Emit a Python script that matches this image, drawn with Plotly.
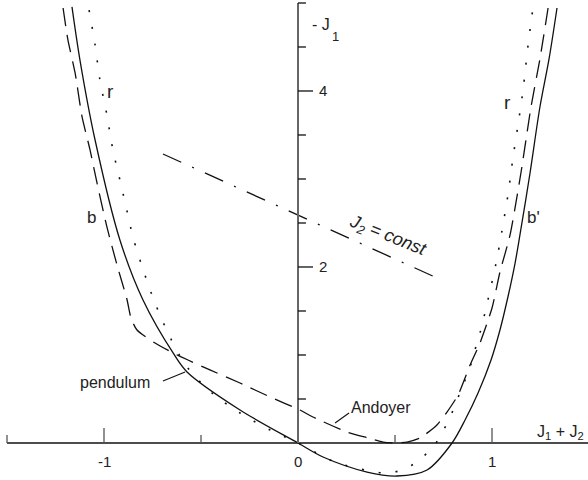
import plotly.graph_objects as go

# ---- curves in the (J1 + J2, -J1) plane ----
# pendulum approximation (solid, labelled b / b')
pendulum_x = [-1.165, -1.124, -1.046, -0.918, -0.799, -0.644, -0.572, -0.299, 0.0,
              0.129, 0.356, 0.510, 0.665, 0.794, 0.861, 0.928, 0.995, 1.041,
              1.082, 1.119, 1.144, 1.196, 1.247, 1.294, 1.335]
pendulum_y = [4.955, 4.352, 3.443, 2.307, 1.625, 1.023, 0.807, 0.375, 0.0,
              -0.159, -0.330, -0.375, -0.307, 0.0, 0.261, 0.568, 0.943, 1.284,
              1.659, 2.045, 2.364, 3.068, 3.818, 4.364, 4.943]

# Andoyer model (dashed)
andoyer_x = [-1.211, -1.186, -1.149, -1.113, -1.072, -1.036, -0.985, -0.933, -0.881,
             -0.861, -0.830, -0.737, -0.644, -0.567, -0.454, -0.299, -0.144, 0.010,
             0.077, 0.253, 0.361, 0.438, 0.500, 0.562, 0.629, 0.716, 0.768, 0.825,
             0.887, 0.938, 1.000, 1.041, 1.093, 1.149, 1.201, 1.247, 1.289]
andoyer_y = [4.943, 4.580, 4.205, 3.705, 3.330, 2.955, 2.455, 2.023, 1.625,
             1.420, 1.284, 1.136, 1.023, 0.943, 0.830, 0.682, 0.523, 0.375,
             0.295, 0.125, 0.057, 0.011, 0.000, 0.011, 0.057, 0.205, 0.352, 0.545,
             0.886, 1.136, 1.534, 1.943, 2.364, 3.068, 3.818, 4.364, 4.943]

# reduced model r (dotted)
r_x = [-1.077, -1.046, -1.021, -0.985, -0.954, -0.912, -0.871, -0.851, -0.789, -0.737,
       -0.660, -0.572, -0.443, -0.299, -0.144, 0.0, 0.191, 0.371, 0.459, 0.552,
       0.624, 0.696, 0.742, 0.784, 0.820, 0.851, 0.887, 0.912, 0.938, 0.979,
       1.021, 1.052, 1.082, 1.108, 1.134, 1.160, 1.186, 1.211]
r_y = [4.920, 4.523, 4.125, 3.727, 3.330, 2.932, 2.534, 2.341, 1.909, 1.591,
       1.205, 0.864, 0.568, 0.341, 0.148, 0.0, -0.216, -0.318, -0.341, -0.295,
       -0.193, -0.045, 0.114, 0.295, 0.489, 0.659, 0.864, 1.057, 1.250, 1.625,
       2.045, 2.420, 2.818, 3.239, 3.614, 4.011, 4.523, 4.943]

# line of constant J2 (dash-dot)
const_x = [-0.696, 0.706]
const_y = [3.284, 1.886]

# ---- axes ----
x_major_ticks = [-1, 1]
x_minor_ticks = [-1.5, -0.5, 0.5]
x_tick_labels = ["-1", "0", "1"]
x_tick_label_pos = [-1, 0, 1]
y_major_ticks = [2, 4]
y_minor_ticks = [0.5, 1, 1.5, 2.5, 3, 3.5, 4.5, 5]
y_tick_labels = ["2", "4"]

X_RANGE = [-1.5361, 1.4948]
Y_RANGE = [-0.4205, 5.034]
# tick lengths in data units (x-axis ticks are vertical, y-axis ticks horizontal)
XT_MAJ, XT_MIN = 0.170, 0.091
YT_MAJ, YT_MIN = 0.0773, 0.041

FONT = "Liberation Sans"
INK = "#111111"

fig = go.Figure()

fig.add_trace(go.Scatter(x=pendulum_x, y=pendulum_y, mode="lines",
                         line=dict(color=INK, width=1.3, shape="spline", smoothing=0.9)))
fig.add_trace(go.Scatter(x=andoyer_x, y=andoyer_y, mode="lines",
                         line=dict(color=INK, width=1.3, dash="18px,9px",
                                   shape="spline", smoothing=0.6)))
fig.add_trace(go.Scatter(x=r_x, y=r_y, mode="lines",
                         line=dict(color=INK, width=1.6, dash="2px,15px",
                                   shape="spline", smoothing=0.9)))
fig.add_trace(go.Scatter(x=const_x, y=const_y, mode="lines",
                         line=dict(color=INK, width=1.3, dash="20px,12px,2px,12px")))

shapes = []
# horizontal axis (J1 + J2) and vertical axis (-J1)
shapes.append(dict(type="line", x0=-1.5, x1=1.6, y0=0, y1=0,
                   line=dict(color=INK, width=1.3)))
shapes.append(dict(type="line", x0=0, x1=0, y0=0, y1=5,
                   line=dict(color="#666666", width=2)))
for t in x_major_ticks:
    shapes.append(dict(type="line", x0=t, x1=t, y0=0, y1=XT_MAJ,
                       line=dict(color="#555555", width=1.3)))
for t in x_minor_ticks:
    shapes.append(dict(type="line", x0=t, x1=t, y0=0, y1=XT_MIN,
                       line=dict(color="#555555", width=1.3)))
for t in y_major_ticks:
    shapes.append(dict(type="line", x0=0, x1=YT_MAJ, y0=t, y1=t,
                       line=dict(color=INK, width=1.3)))
for t in y_minor_ticks:
    shapes.append(dict(type="line", x0=0, x1=YT_MIN, y0=t, y1=t,
                       line=dict(color=INK, width=1.3)))
# leader lines for the model names
shapes.append(dict(type="line", x0=-0.696, y0=0.705, x1=-0.582, y1=0.807,
                   line=dict(color=INK, width=1.1)))
shapes.append(dict(type="line", x0=0.191, y0=0.227, x1=0.263, y1=0.341,
                   line=dict(color=INK, width=1.1)))

ann = []


def label(x, y, text, size=16, xanchor="center", angle=0):
    ann.append(dict(x=x, y=y, text=text, showarrow=False, xanchor=xanchor,
                    yanchor="middle", textangle=angle,
                    font=dict(family=FONT, size=size, color="#222222")))


for t, s in zip(x_tick_label_pos, x_tick_labels):
    label(t, -0.205, s, size=15)
for t, s in zip(y_major_ticks, y_tick_labels):
    label(0.129, t, s, size=15)

label(0.060, 4.75, "- J", size=16, xanchor="left")
label(0.164, 4.62, "1", size=13, xanchor="left")
label(1.224, 0.118, "J<sub>1</sub> + J<sub>2</sub>", size=16, xanchor="left")

label(-0.969, 3.989, "r", size=19)
label(-1.062, 2.557, "b", size=17)
label(1.082, 3.864, "r", size=19)
label(1.216, 2.557, "b'", size=17)
label(-0.943, 0.693, "pendulum", size=16)
label(0.428, 0.398, "Andoyer", size=16)
label(0.464, 2.352, "<i>J<sub>2</sub> = const</i>", size=18, angle=22)

fig.update_layout(
    width=588, height=480, autosize=False,
    margin=dict(l=0, r=0, t=0, b=0),
    paper_bgcolor="white", plot_bgcolor="white",
    showlegend=False,
    xaxis=dict(range=X_RANGE, visible=False, fixedrange=True),
    yaxis=dict(range=Y_RANGE, visible=False, fixedrange=True),
    shapes=shapes, annotations=ann,
)

fig.write_html("out.html")
